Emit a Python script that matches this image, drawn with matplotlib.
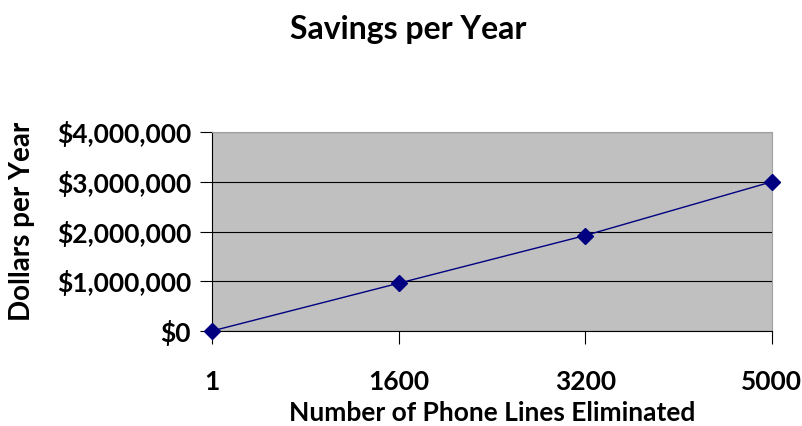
import matplotlib.pyplot as plt
from matplotlib.ticker import FuncFormatter

lines_eliminated = ["1", "1600", "3200", "5000"]
savings = [600, 960000, 1920000, 3000000]
y_ticks = [0, 1000000, 2000000, 3000000, 4000000]

plt.rcParams['font.family'] = ['Lato', 'DejaVu Sans']
plt.rcParams['font.weight'] = 'bold'

fig = plt.figure(figsize=(8.02, 4.26), dpi=100)
ax = fig.add_axes([0.2643, 0.223, 0.698, 0.467])
ax.set_facecolor('#C0C0C0')

x = list(range(len(lines_eliminated)))
ax.plot(x, savings, color='#000080', linewidth=1, marker='D', markersize=8,
        markerfacecolor='#000080', markeredgecolor='#000080', clip_on=False, zorder=3)

ax.set_xlim(0, 3)
ax.set_ylim(0, 4000000)
ax.set_yticks(y_ticks)
ax.yaxis.set_major_formatter(FuncFormatter(lambda v, p: "${:,.0f}".format(v)))
ax.set_xticks(x)
ax.set_xticklabels(lines_eliminated)
ax.grid(axis='y', color='black', linewidth=0.8)
ax.set_axisbelow(True)

for s in ['top', 'right']:
    ax.spines[s].set_color('#A0A0A0')
    ax.spines[s].set_linewidth(0.8)
ax.spines['left'].set_linewidth(0.8)
ax.spines['bottom'].set_linewidth(0.8)

ax.tick_params(axis='y', length=9, width=0.8, labelsize=19, pad=6)
ax.tick_params(axis='x', length=9, width=0.8, labelsize=19, pad=19)

ax.set_xlabel("Number of Phone Lines Eliminated", fontsize=19, fontweight='bold', labelpad=5)
fig.text(0.028, 0.481, "Dollars per Year", rotation=90, ha='center', va='center',
         fontsize=20, fontweight='bold')
fig.text(0.509, 0.93, "Savings per Year", ha='center', va='center',
         fontsize=23, fontweight='bold')

fig.savefig("out.png", dpi=100)
